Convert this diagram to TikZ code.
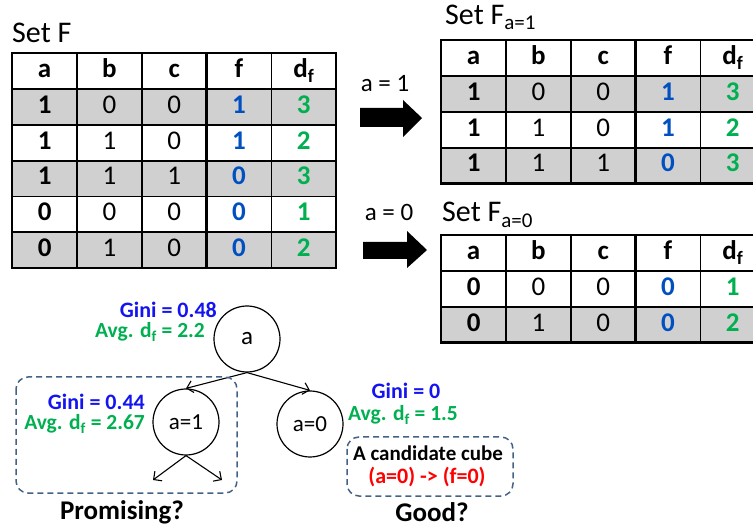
\documentclass[tikz,border=0pt]{standalone}
\usepackage{fontspec}
\setmainfont{Carlito}
\usetikzlibrary{matrix,positioning,arrows.meta}

\definecolor{fblue}{RGB}{0,80,192}
\definecolor{giniblue}{RGB}{20,20,240}
\definecolor{dgreen}{RGB}{0,176,80}
\definecolor{boxblue}{RGB}{68,98,134}
\definecolor{shade}{RGB}{208,208,208}

\newcommand{\tabfont}{\fontsize{27}{29}\selectfont}

\tikzset{
  cell/.style={draw=black, line width=0.8, minimum width=64, minimum height=35,
    inner sep=0, anchor=center, text height=18, text depth=5, font=\tabfont},
  tbl/.style={matrix of nodes, inner sep=0, column sep=0, row sep=0,
    anchor=north west, nodes={cell},
    column 1/.style={nodes={font=\tabfont\bfseries}},
    column 4/.style={nodes={font=\tabfont\bfseries, text=fblue}},
    column 5/.style={nodes={font=\tabfont\bfseries, text=dgreen}},
    row 1/.style={nodes={font=\tabfont\bfseries, text=black}}},
  shaded/.style={nodes={fill=shade}},
  heavy/.style={line width=2.4},
  settitle/.style={anchor=base west, inner sep=0, font=\fontsize{30}{32}\selectfont},
  cond/.style={inner sep=0, font=\fontsize{25}{27}\selectfont},
  vtx/.style={circle, draw, line width=1.2, minimum size=66, inner sep=0},
  edge/.style={line width=1.1, -{Straight Barb[length=6,width=12]}},
  gini/.style={inner sep=0, text=giniblue, font=\fontsize{22}{24}\selectfont\bfseries},
  avg/.style={inner sep=0, text=dgreen, font=\fontsize{21.5}{23}\selectfont\bfseries},
  dashbox/.style={draw=boxblue, line width=1.5, dash pattern=on 6 off 4, rounded corners=12},
  verdict/.style={inner sep=0, font=\fontsize{27}{29}\selectfont\bfseries}
}

\begin{document}
\begin{tikzpicture}[x=1pt,y=-1pt]
  \useasboundingbox (0,0) rectangle (753,529);
  \clip (0,0) rectangle (753,529);

  % set F
  \node[settitle] (tF) at (12,43) {Set F};
  \matrix (F) [tbl, row 2/.style={shaded}, row 4/.style={shaded}, row 6/.style={shaded}]
    at (12,53) {
    a & b & c & f & d\textsubscript{f} \\
    1 & 0 & 0 & 1 & 3 \\
    1 & 1 & 0 & 1 & 2 \\
    1 & 1 & 1 & 0 & 3 \\
    0 & 0 & 0 & 0 & 1 \\
    0 & 1 & 0 & 0 & 2 \\
  };
  \draw[heavy] (F-1-1.north west) rectangle (F-6-5.south east);
  \draw[heavy] (F-1-1.south west) -- (F-1-5.south east);
  \draw[heavy] (F-1-4.north west) -- (F-6-4.south west);

  % set F_{a=1}
  \node[settitle] (tF1) at (445,25) {Set F\textsubscript{a=1}};
  \matrix (F1) [tbl, row 2/.style={shaded}, row 4/.style={shaded}]
    at (441,40) {
    a & b & c & f & d\textsubscript{f} \\
    1 & 0 & 0 & 1 & 3 \\
    1 & 1 & 0 & 1 & 2 \\
    1 & 1 & 1 & 0 & 3 \\
  };
  \draw[heavy] (F1-1-1.north west) rectangle (F1-4-5.south east);
  \draw[heavy] (F1-1-1.south west) -- (F1-1-5.south east);
  \draw[heavy] (F1-1-4.north west) -- (F1-4-4.south west);

  % set F_{a=0}
  \node[settitle] (tF0) at (442,222) {Set F\textsubscript{a=0}};
  \matrix (F0) [tbl, row 3/.style={shaded}]
    at (441,235) {
    a & b & c & f & d\textsubscript{f} \\
    0 & 0 & 0 & 0 & 1 \\
    0 & 1 & 0 & 0 & 2 \\
  };
  \draw[heavy] (F0-1-1.north west) rectangle (F0-3-5.south east);
  \draw[heavy] (F0-1-1.south west) -- (F0-1-5.south east);
  \draw[heavy] (F0-1-4.north west) -- (F0-3-4.south west);

  % split arrows
  \node[cond] (c1) at (385,84) {a = 1};
  \fill (360,108) -- (403,108) -- (403,100) -- (422,118) -- (403,137)
    -- (403,127) -- (360,127) -- cycle;
  \node[cond] (c0) at (389,212) {a = 0};
  \fill (363,242) -- (407,242) -- (407,231) -- (427,250) -- (407,268)
    -- (407,259) -- (363,259) -- cycle;

  % decision tree
  \node[vtx, font=\fontsize{25}{27}\selectfont] (a) at (247,339) {a};
  \node[vtx, font=\fontsize{23}{25}\selectfont] (a1) at (186,422) {a=1};
  \node[vtx, font=\fontsize{23}{25}\selectfont] (a0) at (310,424) {a=0};
  \coordinate (l) at (153,480);
  \coordinate (r) at (222,480);
  \draw[edge] (a.south) -- (a1.north);
  \draw[edge] (a.south) -- (a0.north);
  \draw[edge] (a1.south) -- (l);
  \draw[edge] (a1.south) -- (r);

  \node[gini, anchor=east] (g) at (217,310) {Gini = 0.48};
  \node[avg, anchor=east] (v) at (205,332) {Avg. d\textsubscript{f} = 2.2};
  \node[gini, anchor=east] (g1) at (145,402) {Gini = 0.44};
  \node[avg, anchor=east] (v1) at (145,424) {Avg. d\textsubscript{f} = 2.67};
  \node[gini] (g0) at (406,391) {Gini = 0};
  \node[avg] (v0) at (403,415) {Avg. d\textsubscript{f} = 1.5};

  % promising branch / candidate cube
  \draw[dashbox] (16,377) rectangle (237,493);
  \draw[dashbox] (347,437) rectangle (513,496);
  \node[inner sep=0, font=\fontsize{21}{23}\selectfont\bfseries] (cube) at (428,453) {A candidate cube};
  \node[inner sep=0, text=red, font=\fontsize{22}{24}\selectfont\bfseries] (rule) at (427,477) {(a=0) -> (f=0)};

  \node[verdict] (prom) at (122,512) {Promising?};
  \node[verdict] (good) at (432,512) {Good?};
\end{tikzpicture}
\end{document}
